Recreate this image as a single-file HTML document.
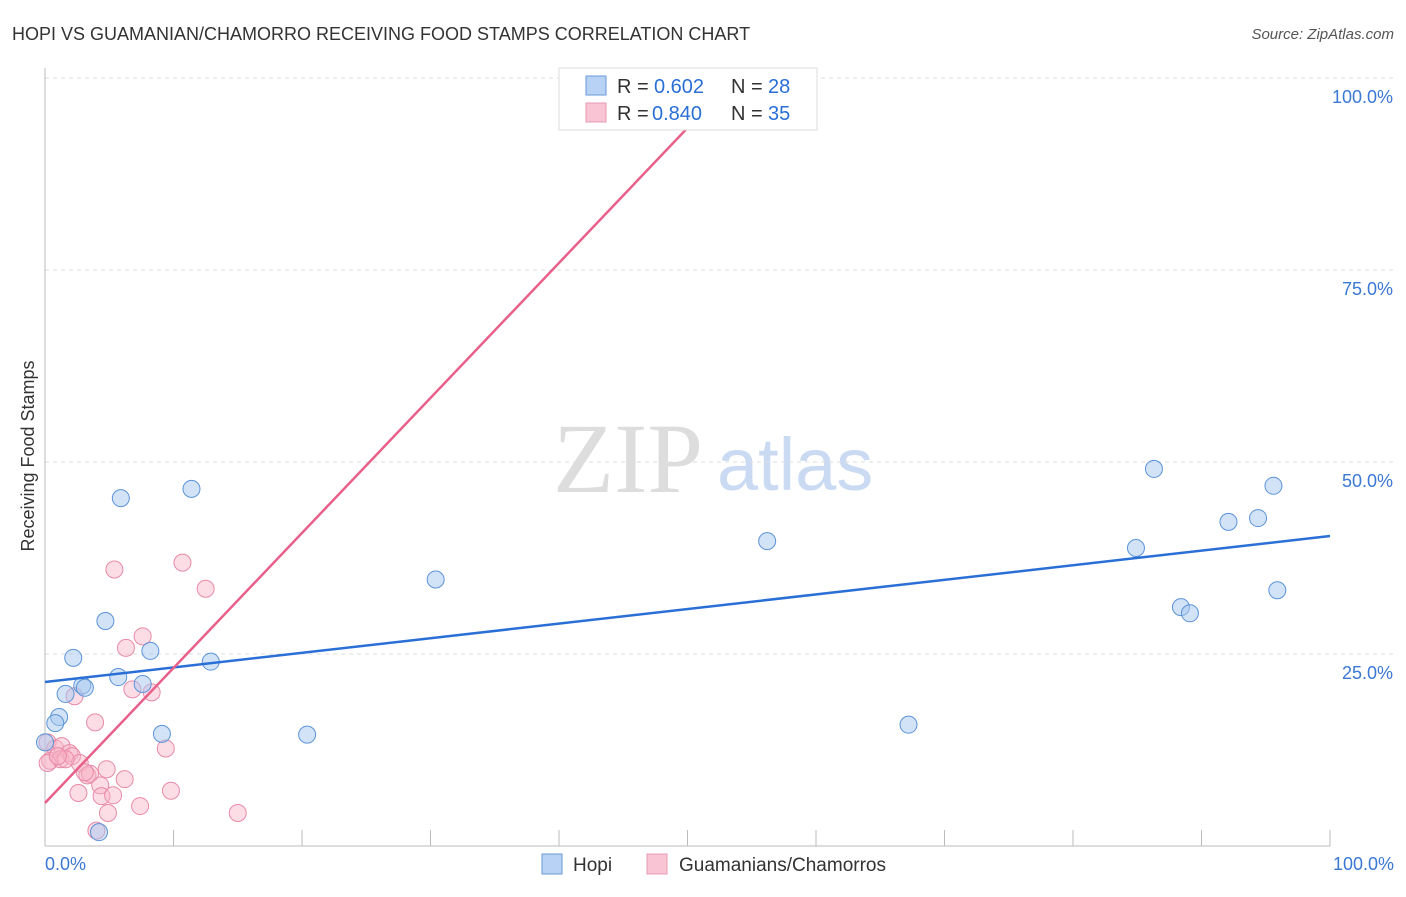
<!DOCTYPE html>
<html><head><meta charset="utf-8"><style>
body{margin:0;background:#fff;font-family:"Liberation Sans",sans-serif}
</style></head><body>
<svg id="chart" width="1406" height="892" font-family="Liberation Sans, sans-serif">
<text x="12" y="40" font-size="18" fill="#333">HOPI VS GUAMANIAN/CHAMORRO RECEIVING FOOD STAMPS CORRELATION CHART</text>
<text x="1394" y="39" font-size="15" fill="#555" text-anchor="end" font-style="italic">Source: ZipAtlas.com</text>
<text transform="translate(34,456) rotate(-90)" font-size="18" fill="#333" text-anchor="middle">Receiving Food Stamps</text>
<text x="553" y="492" font-size="100" fill="#ddd" style="font-family:'Liberation Serif',serif">ZIP</text>
<text x="717" y="490" font-size="74" fill="#c9daf2">atlas</text>
<g id="grid"></g><g id="marks"></g>
<g>
<rect x="559" y="68" width="258" height="62" fill="#fff" stroke="#ddd"/>
<rect x="586" y="76" width="20" height="19" fill="#b8d2f5" stroke="#6a9ad8"/>
<rect x="586" y="103" width="20" height="19" fill="#f9c4d3" stroke="#e89ab2"/>
<text x="617" y="93" font-size="20" fill="#333">R =</text><text x="654" y="93" font-size="20" fill="#2a6fd6">0.602</text>
<text x="731" y="93" font-size="20" fill="#333">N =</text><text x="768" y="93" font-size="20" fill="#2a6fd6">28</text>
<text x="617" y="120" font-size="20" fill="#333">R =</text><text x="652" y="120" font-size="20" fill="#2a6fd6">0.840</text>
<text x="731" y="120" font-size="20" fill="#333">N =</text><text x="768" y="120" font-size="20" fill="#2a6fd6">35</text>
</g>
<g>
<rect x="542" y="854" width="20" height="20" fill="#b8d2f5" stroke="#6a9ad8"/>
<text x="573" y="871" font-size="19" fill="#333">Hopi</text>
<rect x="647" y="854" width="20" height="20" fill="#f9c4d3" stroke="#e89ab2"/>
<text x="679" y="871" font-size="19" fill="#333">Guamanians/Chamorros</text>
</g>
</svg>
<script>
const hopiX=[5.9,11.4,4.7,2.2,8.2,12.9,5.7,2.9,3.1,7.6,1.6,1.1,0.8,9.1,20.4,4.2,30.4,56.2,67.2,84.9,86.3,88.4,89.1,92.1,94.4,95.6,95.9,0];
const hopiY=[45.3,46.5,29.3,24.5,25.4,24.0,22.0,20.9,20.6,21.1,19.8,16.8,16.0,14.6,14.5,1.8,34.7,39.7,15.8,38.8,49.1,31.1,30.3,42.2,42.7,46.9,33.3,13.5];
const guamX=[5.4,10.7,12.5,7.6,6.3,6.8,8.3,2.3,3.9,9.4,0.2,0.8,1.3,1.9,0.4,1.2,2.1,2.7,3.3,3.5,4.8,0.2,2.6,4.3,4.4,5.3,6.2,9.8,7.4,4.9,15.0,4.0,1.6,1.0,3.1];
const guamY=[36.0,36.9,33.5,27.3,25.8,20.4,20.0,19.5,16.1,12.7,13.5,12.7,13.0,12.1,11.1,11.3,11.7,10.8,9.2,9.4,10.0,10.8,6.9,7.9,6.5,6.6,8.7,7.2,5.2,4.3,4.3,2.0,11.3,11.7,9.6];
const hopiLine=[21.35,40.36];
const guamLine=[5.6,1.758];
const yTicks=[25,50,75,100];
const X=v=>45+v*12.85, Y=v=>846-v*7.68;
const ns='http://www.w3.org/2000/svg';
const grid=document.getElementById('grid'),marks=document.getElementById('marks');
function mk(tag,at,parent){const e=document.createElementNS(ns,tag);for(const k in at)e.setAttribute(k,at[k]);parent.appendChild(e);return e;}
yTicks.forEach(t=>{
 const l=mk('line',{x1:45,x2:1394,y1:Y(t),y2:Y(t),stroke:'#ddd','stroke-dasharray':'4,4'},grid);
 
 
 const tx=mk('text',{x:1393,y:Y(t)+25,'font-size':18,fill:'#3a78d4','text-anchor':'end'},grid);
 tx.textContent=t.toFixed(1)+'%';
 
 
});
mk('line',{x1:45,x2:45,y1:68,y2:846,stroke:'#bbb'},grid);
mk('line',{x1:45,x2:1330,y1:846,y2:846,stroke:'#bbb'},grid);
for(let i=0;i<=10;i++){mk('line',{x1:X(i*10),x2:X(i*10),y1:830,y2:846,stroke:'#bbb'},grid);}
const t0=mk('text',{x:45,y:870,'font-size':18,fill:'#3a78d4'},grid);t0.textContent='0.0%';


const t1=mk('text',{x:1394,y:870,'font-size':18,fill:'#3a78d4','text-anchor':'end'},grid);t1.textContent='100.0%';


guamX.forEach((x,i)=>{const c=mk('circle',{cx:X(x),cy:Y(guamY[i]),r:8.5,fill:'rgba(248,180,200,0.45)',stroke:'#e88aa8','stroke-width':1},marks);
 
 });
hopiX.forEach((x,i)=>{const c=mk('circle',{cx:X(x),cy:Y(hopiY[i]),r:8.5,fill:'rgba(165,200,240,0.5)',stroke:'#5b93d9','stroke-width':1},marks);
 
 });
const bl=mk('line',{x1:X(0),y1:Y(hopiLine[0]),x2:X(100),y2:Y(hopiLine[1]),stroke:'#2a6fd6','stroke-width':2.5},marks);


const xe=(100-guamLine[0])/guamLine[1]*0.955;
const pl=mk('line',{x1:X(0),y1:Y(guamLine[0]),x2:X(xe),y2:Y(guamLine[0]+guamLine[1]*xe),stroke:'#e8608a','stroke-width':2.5},marks);


</script>
</body></html>
